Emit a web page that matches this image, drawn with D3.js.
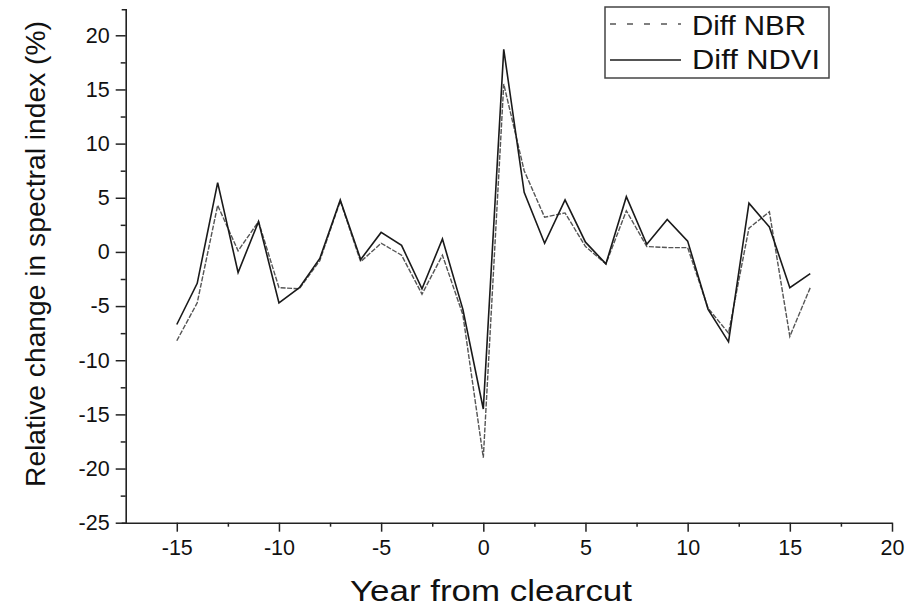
<!DOCTYPE html>
<html>
<head>
<meta charset="utf-8">
<script src="https://cdn.jsdelivr.net/npm/d3@7"></script>
<style>
  html, body { margin: 0; padding: 0; background: #fff; }
  svg { display: block; }
  text { font-family: "Liberation Sans", Arial, sans-serif; fill: #111; }
</style>
</head>
<body>
<svg id="chart" width="912" height="608"></svg>
<script>
// ---- Data ----
const years = [-15,-14,-13,-12,-11,-10,-9,-8,-7,-6,-5,-4,-3,-2,-1,0,1,2,3,4,5,6,7,8,9,10,11,12,13,14,15,16];
const diffNBR = [-8.2,-4.7,4.3,0.1,2.8,-3.3,-3.4,-0.8,4.7,-0.9,0.8,-0.3,-3.9,-0.3,-5.8,-19.0,15.5,7.5,3.2,3.6,0.5,-1.1,3.8,0.5,0.4,0.4,-5.2,-7.5,2.2,3.7,-7.8,-3.3];
const diffNDVI = [-6.7,-2.9,6.4,-1.9,2.8,-4.7,-3.3,-0.6,4.8,-0.7,1.8,0.6,-3.4,1.2,-5.3,-14.5,18.7,5.5,0.8,4.8,0.9,-1.1,5.1,0.7,3.0,1.0,-5.3,-8.3,4.5,2.3,-3.3,-2.0];
const xTicks = [-15,-10,-5,0,5,10,15,20];
const xMinorTicks = [-12.5,-7.5,-2.5,2.5,7.5,12.5,17.5];
const yTicks = [-25,-20,-15,-10,-5,0,5,10,15,20];
const yMinorTicks = [-22.5,-17.5,-12.5,-7.5,-2.5,2.5,7.5,12.5,17.5];
const seriesNames = ["Diff NBR", "Diff NDVI"];
const xTitle = "Year from clearcut";
const yTitle = "Relative change in spectral index (%)";

// ---- Layout ----
const svg = d3.select("#chart");
const x = d3.scaleLinear().domain([-17.5, 20]).range([125.7, 892]);
const y = d3.scaleLinear().domain([-25, 22.4]).range([522.7, 9.3]);

const axisColor = "#222";

// minor ticks
const gxMinor = svg.append("g").attr("transform", `translate(0,${y(-25)})`)
  .call(d3.axisBottom(x).tickValues(xMinorTicks).tickSize(4).tickFormat(""));
const gyMinor = svg.append("g").attr("transform", `translate(${x(-17.5)},0)`)
  .call(d3.axisLeft(y).tickValues(yMinorTicks).tickSize(5).tickFormat(""));
[gxMinor, gyMinor].forEach(g => {
  g.select(".domain").remove();
  g.selectAll("line").attr("stroke", axisColor).attr("stroke-width", 1.5);
});

// major axes
const gx = svg.append("g").attr("transform", `translate(0,${y(-25)})`)
  .call(d3.axisBottom(x).tickValues(xTicks).tickSize(9).tickSizeOuter(0).tickPadding(8)
    .tickFormat(d => d < 0 ? "-" + Math.abs(d) : d));
const gy = svg.append("g").attr("transform", `translate(${x(-17.5)},0)`)
  .call(d3.axisLeft(y).tickValues(yTicks).tickSize(10).tickSizeOuter(4).tickPadding(6)
    .tickFormat(d => d < 0 ? "-" + Math.abs(d) : d));
[gx, gy].forEach(g => {
  g.select(".domain").attr("stroke", axisColor).attr("stroke-width", 1.6);
  g.selectAll(".tick line").attr("stroke", axisColor).attr("stroke-width", 1.5);
  g.selectAll(".tick text").attr("font-size", 21.5).attr("fill", "#222")
    .style("font-family", '"Liberation Sans", Arial, sans-serif');
});

// axis titles
svg.append("text")
  .attr("x", 491).attr("y", 601)
  .attr("text-anchor", "middle")
  .attr("font-size", 30)
  .attr("textLength", 282).attr("lengthAdjust", "spacingAndGlyphs")
  .text(xTitle);
svg.append("text")
  .attr("transform", "translate(45,254) rotate(-90)")
  .attr("text-anchor", "middle")
  .attr("font-size", 28.5)
  .attr("textLength", 466).attr("lengthAdjust", "spacingAndGlyphs")
  .text(yTitle);

// lines
const line = (vals) => d3.line()
  .x((d, i) => x(years[i]))
  .y(d => y(d))(vals);

svg.append("path")
  .attr("d", line(diffNBR))
  .attr("fill", "none")
  .attr("stroke", "#555")
  .attr("stroke-width", 1.4)
  .attr("stroke-dasharray", "5,1.5")
  .attr("stroke-linejoin", "miter");

svg.append("path")
  .attr("d", line(diffNDVI))
  .attr("fill", "none")
  .attr("stroke", "#1a1a1a")
  .attr("stroke-width", 1.6)
  .attr("stroke-linejoin", "miter");

// legend
const lg = svg.append("g");
lg.append("rect")
  .attr("x", 605).attr("y", 7).attr("width", 224).attr("height", 71)
  .attr("fill", "#fff").attr("stroke", "#444").attr("stroke-width", 1.5);
lg.append("line")
  .attr("x1", 610).attr("x2", 681).attr("y1", 24).attr("y2", 24)
  .attr("stroke", "#555").attr("stroke-width", 1.4).attr("stroke-dasharray", "6,11");
lg.append("line")
  .attr("x1", 610).attr("x2", 681).attr("y1", 60).attr("y2", 60)
  .attr("stroke", "#1a1a1a").attr("stroke-width", 1.6);
lg.append("text")
  .attr("x", 692).attr("y", 35).attr("font-size", 27)
  .attr("textLength", 114).attr("lengthAdjust", "spacingAndGlyphs")
  .text(seriesNames[0]);
lg.append("text")
  .attr("x", 692).attr("y", 69).attr("font-size", 27)
  .attr("textLength", 128).attr("lengthAdjust", "spacingAndGlyphs")
  .text(seriesNames[1]);
</script>
</body>
</html>
